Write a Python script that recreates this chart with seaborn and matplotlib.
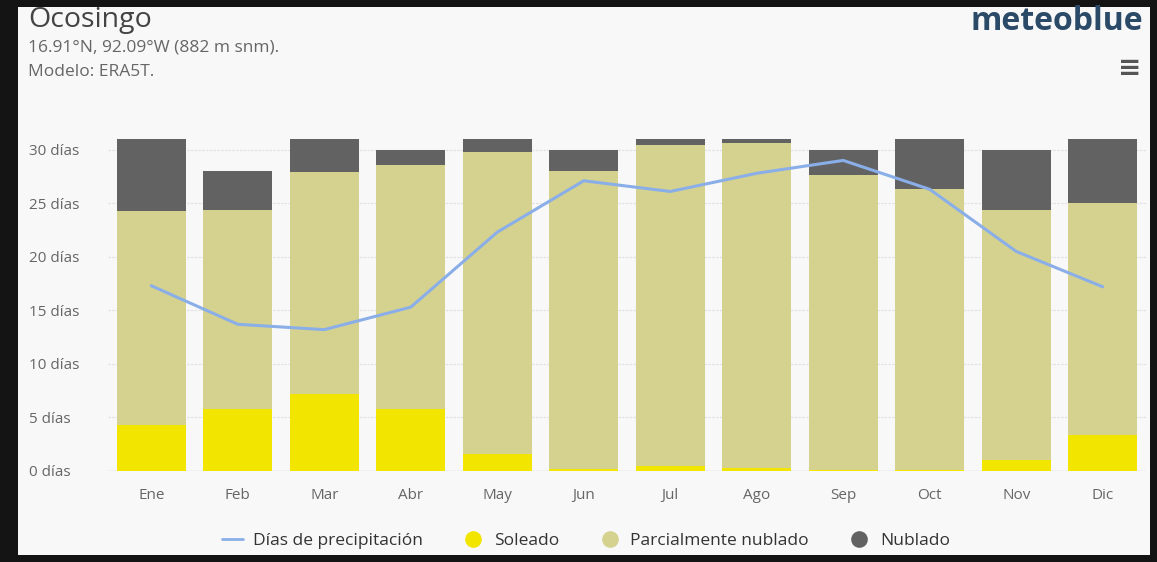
import numpy as np
import pandas as pd
import matplotlib
matplotlib.use("Agg")
import matplotlib.pyplot as plt
from matplotlib.patches import Rectangle
from matplotlib.lines import Line2D
import seaborn as sns

months = ["Ene", "Feb", "Mar", "Abr", "May", "Jun", "Jul", "Ago", "Sep", "Oct", "Nov", "Dic"]
soleado = [4.3, 5.8, 7.2, 5.8, 1.6, 0.2, 0.5, 0.3, 0.1, 0.1, 1.0, 3.4]
parcial = [20.0, 18.6, 20.7, 22.8, 28.2, 27.8, 29.9, 30.3, 27.5, 26.2, 23.4, 21.6]
nublado = [6.7, 3.6, 3.1, 1.4, 1.2, 2.0, 0.6, 0.4, 2.4, 4.7, 5.6, 6.0]
precip = [17.3, 13.7, 13.2, 15.3, 22.3, 27.1, 26.1, 27.8, 29.0, 26.3, 20.5, 17.2]
yticks = [0, 5, 10, 15, 20, 25, 30]

C_SUN = "#f2e500"
C_PART = "#d5d28f"
C_OVER = "#626262"
C_LINE = "#8aaee8"
BG = "#f8f8f8"

sns.set_theme(style="white")
plt.rcParams["font.family"] = ["Open Sans", "DejaVu Sans"]

df = pd.DataFrame({"mes": months, "sol": soleado, "par": parcial, "nub": nublado, "pre": precip})
df["pos"] = np.arange(len(months))
df["b2"] = df["sol"] + df["par"]

fig = plt.figure(figsize=(11.57, 5.62), dpi=100)
fig.patch.set_facecolor("#141414")
fig.patches.append(Rectangle((18 / 1157, 7 / 562), (1150 - 18) / 1157, (555 - 7) / 562,
                             transform=fig.transFigure, facecolor=BG, edgecolor="none", zorder=-10))

ax = fig.add_axes([108 / 1157, 1 - 471 / 562, (1146 - 108) / 1157, (471 - 139) / 562])
ax.set_facecolor(BG)
ax.set_zorder(1)

sns.barplot(data=df, x="mes", y="sol", color=C_SUN, width=0.8, ax=ax, saturation=1, linewidth=0, zorder=2)
sns.barplot(data=df, x="mes", y="par", bottom=df["sol"], color=C_PART, width=0.8, ax=ax, saturation=1, linewidth=0, zorder=2)
sns.barplot(data=df, x="mes", y="nub", bottom=df["b2"], color=C_OVER, width=0.8, ax=ax, saturation=1, linewidth=0, zorder=2)
sns.lineplot(data=df, x="pos", y="pre", color=C_LINE, linewidth=2.2, ax=ax, zorder=3, sort=False)

ax.set_xlim(-0.5, len(months) - 0.5)
ax.set_ylim(0, 31)
ax.set_yticks(yticks)
ax.set_yticklabels([f"{v} días" for v in yticks])
ax.set_xticks(np.arange(len(months)))
ax.set_xticklabels(months)
ax.set_xlabel("")
ax.set_ylabel("")
ax.tick_params(axis="y", colors="#666666", labelsize=11, length=0, pad=57)
ax.tick_params(axis="x", colors="#666666", labelsize=11, length=0, pad=12)
for lbl in ax.get_yticklabels():
    lbl.set_horizontalalignment("left")
for s in ax.spines.values():
    s.set_visible(False)
ax.grid(axis="y", color="#e2e2e6", linewidth=0.9, linestyle=(0, (2, 1)), zorder=0)
ax.set_axisbelow(True)
ax.axhline(0, color="#d8dcea", linewidth=1, zorder=1)

fig.text(28 / 1157, 1 - 20 / 562, "Ocosingo", fontsize=20.5, color="#444444", va="center", ha="left")
fig.text(28 / 1157, 1 - 48 / 562, "16.91°N, 92.09°W (882 m snm).", fontsize=12.5, color="#666666", va="center", ha="left")
fig.text(28 / 1157, 1 - 72 / 562, "Modelo: ERA5T.", fontsize=12.5, color="#666666", va="center", ha="left")
fig.text(1143 / 1157, 1 - 22 / 562, "meteoblue", fontsize=23, color="#2b4a68", fontweight="bold",
         va="center", ha="right")
fig.text(1130 / 1157, 1 - 68 / 562, "≡", fontsize=20, color="#555555", va="center", ha="center",
         family="DejaVu Sans", fontweight="bold")

handles = [
    Line2D([0], [0], color=C_LINE, lw=2),
    Line2D([0], [0], marker="o", color="none", markerfacecolor=C_SUN, markeredgecolor="none", markersize=12),
    Line2D([0], [0], marker="o", color="none", markerfacecolor=C_PART, markeredgecolor="none", markersize=12),
    Line2D([0], [0], marker="o", color="none", markerfacecolor=C_OVER, markeredgecolor="none", markersize=12),
]
labels = ["Días de precipitación", "Soleado", "Parcialmente nublado", "Nublado"]
leg = fig.legend(handles, labels, loc="center", bbox_to_anchor=(586 / 1157, 1 - 541 / 562), ncol=4,
                 frameon=False, fontsize=12.5, handlelength=1.2, handletextpad=0.6, columnspacing=2.3)
for t in leg.get_texts():
    t.set_color("#333333")

fig.savefig("out.png", dpi=100, facecolor=fig.get_facecolor())
